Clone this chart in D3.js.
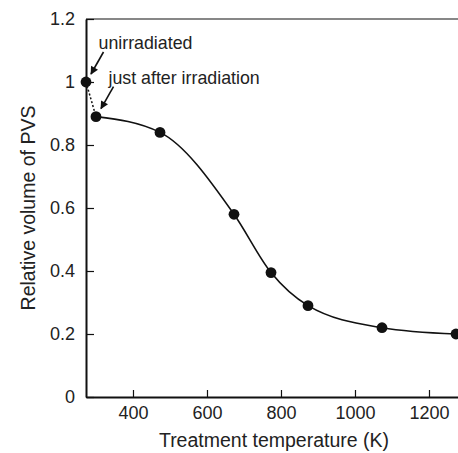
<!DOCTYPE html>
<html>
<head>
<meta charset="utf-8">
<script src="https://cdn.jsdelivr.net/npm/d3@7"></script>
<style>
  body { margin: 0; background: #fff; }
  text { font-family: "Liberation Sans", Arial, Helvetica, sans-serif; fill: #222; }
</style>
</head>
<body>
<div class="chart"></div>
<script>
var width = 458;
var height = 453;

// treatment temperature (K) and relative volume of PVS
var temps = [273, 300, 473, 673, 773, 873, 1073, 1273];
var volumes = [1.0, 0.89, 0.84, 0.58, 0.395, 0.29, 0.22, 0.20];
var xTicks = [400, 600, 800, 1000, 1200];
var yTicks = [0, 0.2, 0.4, 0.6, 0.8, 1, 1.2];
var notes = ['unirradiated', 'just after irradiation'];
var noteIndex = [0, 1];

var svg = d3.select('.chart')
            .append('svg')
            .attr('width', width)
            .attr('height', height);

var x = d3.scaleLinear()
          .domain([273, 1300])
          .range([86, 86 + 1027 * 0.37]);

var y = d3.scaleLinear()
          .domain([0, 1.2])
          .range([397, 19]);

svg.append('defs')
   .append('marker')
   .attr('id', 'head')
   .attr('viewBox', '0 0 10 10')
   .attr('refX', 9)
   .attr('refY', 5)
   .attr('markerWidth', 10)
   .attr('markerHeight', 8)
   .attr('markerUnits', 'userSpaceOnUse')
   .attr('orient', 'auto')
   .append('path')
   .attr('d', 'M0,0 L10,5 L0,10 Z')
   .attr('fill', '#111');

// frame top
svg.append('line')
   .attr('x1', x(273)).attr('x2', x(1300))
   .attr('y1', y(1.2)).attr('y2', y(1.2))
   .attr('stroke', '#111')
   .attr('stroke-width', 1.2);

var xAxis = d3.axisBottom(x)
              .tickValues(xTicks)
              .tickSizeInner(-7)
              .tickSizeOuter(0)
              .tickPadding(9)
              .tickFormat(d3.format('d'));

var yAxis = d3.axisLeft(y)
              .tickValues(yTicks)
              .tickSizeInner(-8)
              .tickSizeOuter(0)
              .tickPadding(11)
              .tickFormat(d => String(d));

var gx = svg.append('g')
            .attr('transform', `translate(0, ${y(0)})`)
            .call(xAxis);

var gy = svg.append('g')
            .attr('transform', `translate(${x(273)}, 0)`)
            .call(yAxis);

[gx, gy].forEach(g => {
  g.select('.domain').attr('stroke', '#111').attr('stroke-width', 2);
  g.selectAll('.tick line').attr('stroke', '#111').attr('stroke-width', 1.2);
  g.selectAll('.tick text')
   .attr('font-size', 18)
   .attr('font-family', '"Liberation Sans", Arial, sans-serif')
   .attr('fill', '#222');
});

// axis titles
svg.append('text')
   .attr('x', 274)
   .attr('y', 447)
   .attr('text-anchor', 'middle')
   .attr('font-size', 19.5)
   .text('Treatment temperature (K)');

svg.append('text')
   .attr('transform', 'rotate(-90)')
   .attr('x', -208)
   .attr('y', 35)
   .attr('text-anchor', 'middle')
   .attr('font-size', 19.5)
   .text('Relative volume of PVS');

var pts = temps.map((t, i) => [t, volumes[i]]);

// dotted step after irradiation
svg.append('path')
   .datum(pts.slice(0, 2))
   .attr('d', d3.line().x(d => x(d[0])).y(d => y(d[1])))
   .attr('fill', 'none')
   .attr('stroke', '#111')
   .attr('stroke-width', 1.5)
   .attr('stroke-dasharray', '2,2');

// annealing curve
svg.append('path')
   .datum(pts.slice(1))
   .attr('d', d3.line().curve(d3.curveMonotoneX).x(d => x(d[0])).y(d => y(d[1])))
   .attr('fill', 'none')
   .attr('stroke', '#111')
   .attr('stroke-width', 1.6);

svg.selectAll('circle')
   .data(pts)
   .enter()
   .append('circle')
   .attr('cx', d => x(d[0]))
   .attr('cy', d => y(d[1]))
   .attr('r', 5.4)
   .attr('fill', '#111');

// annotations with arrows
notes.forEach((label, k) => {
  var p = pts[noteIndex[k]];
  var px = x(p[0]), py = y(p[1]);
  svg.append('text')
     .attr('x', px + 12.5)
     .attr('y', py - 33)
     .attr('font-size', 17.8)
     .text(label);
  svg.append('line')
     .attr('x1', px + 17.5).attr('y1', py - 30)
     .attr('x2', px + 5).attr('y2', py - 8)
     .attr('stroke', '#111')
     .attr('stroke-width', 1.6)
     .attr('marker-end', 'url(#head)');
});
</script>
</body>
</html>
